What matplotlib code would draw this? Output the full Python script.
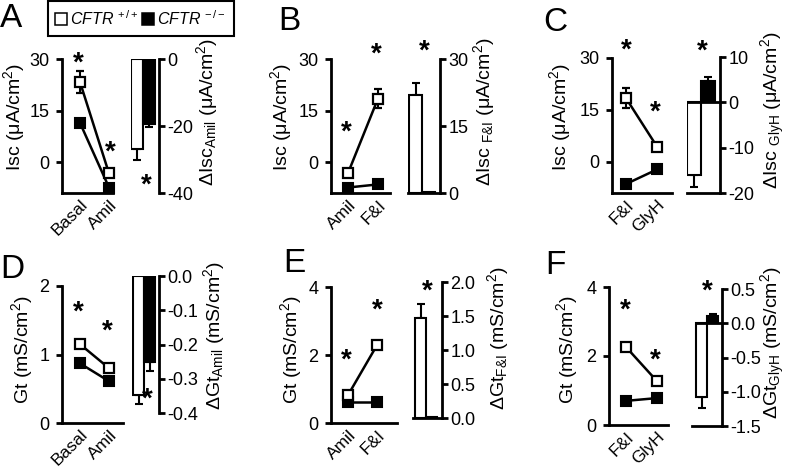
import matplotlib
matplotlib.use('Agg')
import matplotlib.pyplot as plt
from matplotlib import transforms
from matplotlib.lines import Line2D

plt.rcParams['font.family'] = ['Liberation Sans', 'DejaVu Sans']
plt.rcParams['mathtext.fontset'] = 'custom'
plt.rcParams['mathtext.rm'] = 'Liberation Sans'
plt.rcParams['mathtext.it'] = 'Liberation Sans:italic'
plt.rcParams['mathtext.bf'] = 'Liberation Sans:bold'
plt.rcParams['mathtext.default'] = 'regular'
plt.rcParams['axes.unicode_minus'] = False

# ===== DATA =====
# Isc (uA/cm2), CFTR+/+ = wt, CFTR-/- = ko
a_conds = ['Basal', 'Amil']
a_wt = [23.3, -3.3]
a_wt_err = [3.2, 0.5]
a_ko = [11.4, -7.4]
a_ko_err = [0.5, 0.5]
a_delta = [-27.0, -19.5]
a_delta_err = [3.2, 0.8]

b_conds = ['Amil', 'F&I']
b_wt = [-3.2, 18.5]
b_wt_err = [0.5, 2.8]
b_ko = [-7.4, -6.5]
b_ko_err = [0.5, 0.5]
b_delta = [22.0, 0.3]
b_delta_err = [2.7, 0.0]

c_conds = ['F&I', 'GlyH']
c_wt = [18.4, 4.4]
c_wt_err = [2.8, 0.5]
c_ko = [-6.4, -2.2]
c_ko_err = [0.5, 0.5]
c_delta = [-16.0, 4.6]
c_delta_err = [2.7, 1.0]

# Gt (mS/cm2)
d_conds = ['Basal', 'Amil']
d_wt = [1.15, 0.80]
d_wt_err = [0.03, 0.03]
d_ko = [0.87, 0.61]
d_ko_err = [0.03, 0.03]
d_delta = [-0.347, -0.251]
d_delta_err = [0.026, 0.026]

e_conds = ['Amil', 'F&I']
e_wt = [0.82, 2.29]
e_wt_err = [0.05, 0.08]
e_ko = [0.62, 0.62]
e_ko_err = [0.03, 0.03]
e_delta = [1.47, 0.02]
e_delta_err = [0.21, 0.0]

f_conds = ['F&I', 'GlyH']
f_wt = [2.26, 1.27]
f_wt_err = [0.08, 0.05]
f_ko = [0.70, 0.78]
f_ko_err = [0.03, 0.03]
f_delta = [-1.07, 0.11]
f_delta_err = [0.17, 0.03]

# significance stars (x, y in data units of each axes)
a_stars = [(-0.07, 31.2), (1.03, 5.5)]
a_bar_stars = [(0.75, -35.0)]
b_stars = [(-0.07, 11.2), (0.93, 34.0)]
b_bar_stars = [(0.65, 33.6)]
c_stars = [(0.0, 34.7), (0.94, 16.9)]
c_bar_stars = [(0.57, 13.1)]
d_stars = [(-0.07, 1.75), (0.93, 1.46)]
d_bar_stars = [(0.77, -0.335)]
e_stars = [(-0.07, 2.09), (1.0, 3.56)]
e_bar_stars = [(0.59, 1.99)]
f_stars = [(-0.03, 3.57), (0.94, 2.12)]
f_bar_stars = [(0.5, 0.59)]

W, H = 792, 469
fig = plt.figure(figsize=(W / 100, H / 100), dpi=100)

LW = 2.0
TICKFS = 13
XTICKFS = 12.5
LABFS = 14


def px_axes(l, r, t, b):
    return fig.add_axes([l / W, 1 - b / H, (r - l) / W, (b - t) / H])


def add_stars(ax, stars, fs=20):
    tr = transforms.offset_copy(ax.transData, fig=fig, x=0, y=-0.58 * fs, units='points')
    for x, y in stars:
        ax.text(x, y, '*', transform=tr, ha='center', va='baseline',
                fontsize=fs, fontweight='bold', clip_on=False)


def line_panel(box, ylim, yticks, conds, wt, wt_err, ko, ko_err, stars,
               ylabel, lab_xy):
    al, p0, p1, ar, t, b = box
    ax = px_axes(al, ar, t, b)
    unit = p1 - p0
    ax.set_xlim(-(p0 - al) / unit, 1 + (ar - p1) / unit)
    ax.set_ylim(*ylim)
    x = [0, 1]
    ax.errorbar(x, ko, yerr=ko_err, color='black', lw=1.8, marker='s', ms=7.5,
                mfc='black', mec='black', mew=1.5, capsize=3, elinewidth=1.5,
                capthick=1.5, clip_on=False, zorder=3)
    ax.errorbar(x, wt, yerr=wt_err, color='black', lw=1.8, marker='s', ms=7.5,
                mfc='white', mec='black', mew=1.6, capsize=3, elinewidth=1.5,
                capthick=1.5, clip_on=False, zorder=4)
    for s in ['top', 'right']:
        ax.spines[s].set_visible(False)
    for s in ['left', 'bottom']:
        ax.spines[s].set_linewidth(LW)
    ax.set_yticks(yticks)
    ax.set_xticks(x)
    ax.set_xticklabels(conds)
    ax.tick_params(axis='y', direction='out', length=4, width=LW, pad=5,
                   labelsize=TICKFS)
    ax.tick_params(axis='x', length=0, pad=3, labelsize=XTICKFS)
    plt.setp(ax.get_xticklabels(), rotation=45, ha='right', rotation_mode='anchor')
    ax.set_ylabel(ylabel, fontsize=LABFS)
    ax.yaxis.set_label_coords(lab_xy[0] / W, 1 - lab_xy[1] / H, transform=fig.transFigure)
    ax.yaxis.label.set_va('center')
    add_stars(ax, stars)
    return ax


def bar_panel(box, ylim, yticks, fmt, delta, delta_err, stars, ylabel, lab_xy,
              bottom_spine, zero_line):
    al, bl, br, ar, t, b = box
    ax = px_axes(al, ar, t, b)
    unit = (br - bl) / 2
    x0, x1 = -0.5 - (bl - al) / unit, 1.5 + (ar - br) / unit
    ax.set_xlim(x0, x1)
    ax.set_ylim(*ylim)
    colors = ['white', 'black']
    for i in range(2):
        v = delta[i]
        e = delta_err[i]
        yerr = [[e], [0]] if v < 0 else [[0], [e]]
        ax.bar(i, v, width=1.0, color=colors[i], edgecolor='black', linewidth=1.5,
               zorder=2)
        if e > 0:
            ax.errorbar(i, v, yerr=yerr, color='black', capsize=3, elinewidth=1.5,
                        capthick=1.5, zorder=1)
    if zero_line:
        ax.axhline(0, xmin=(-0.5 - x0) / (x1 - x0), color='black', lw=LW, zorder=3)
    for s in ['top', 'left']:
        ax.spines[s].set_visible(False)
    ax.spines['bottom'].set_visible(bottom_spine)
    ax.spines['right'].set_linewidth(LW)
    ax.spines['bottom'].set_linewidth(LW)
    ax.yaxis.tick_right()
    ax.yaxis.set_label_position('right')
    ax.set_yticks(yticks)
    ax.set_yticklabels([fmt % v for v in yticks])
    ax.set_xticks([])
    ax.tick_params(axis='y', direction='out', length=4, width=LW, pad=2,
                   labelsize=TICKFS)
    ax.set_ylabel(ylabel, fontsize=LABFS)
    ax.yaxis.set_label_coords(lab_xy[0] / W, 1 - lab_xy[1] / H, transform=fig.transFigure)
    ax.yaxis.label.set_va('center')
    ax.yaxis.label.set_ha('center')
    add_stars(ax, stars)
    return ax


isc_lab = 'Isc (μA/cm$^2$)'
gt_lab = 'Gt (mS/cm$^2$)'

# top row: Isc
line_panel((62, 80, 109, 113, 59, 193), (-9, 30), [0, 15, 30], a_conds,
           a_wt, a_wt_err, a_ko, a_ko_err, a_stars, isc_lab, (14, 117))
bar_panel((131, 131, 155, 159, 59, 193), (-40, 0), [0, -20, -40], '%g', a_delta,
          a_delta_err, a_bar_stars, 'ΔIsc$_{Amil}$ (μA/cm$^2$)',
          (207, 112), False, False)

line_panel((331, 348, 378, 390, 59, 193), (-9, 30), [0, 15, 30], b_conds,
           b_wt, b_wt_err, b_ko, b_ko_err, b_stars, isc_lab, (281, 117))
bar_panel((408, 409, 435, 440, 59, 193), (0, 30), [0, 15, 30], '%g', b_delta,
          b_delta_err, b_bar_stars, 'ΔIsc $_{F&I}$ (μA/cm$^2$)',
          (484, 112), True, False)

line_panel((612, 626, 657, 672, 58, 193), (-9, 30), [0, 15, 30], c_conds,
           c_wt, c_wt_err, c_ko, c_ko_err, c_stars, isc_lab, (560, 117))
bar_panel((687, 687, 715, 720, 57, 193), (-20, 10), [10, 0, -10, -20], '%g', c_delta,
          c_delta_err, c_bar_stars, 'ΔIsc $_{GlyH}$ (μA/cm$^2$)',
          (773, 110), True, True)

# bottom row: Gt
line_panel((62, 80, 109, 123, 286, 423), (0, 2), [0, 1, 2], d_conds,
           d_wt, d_wt_err, d_ko, d_ko_err, d_stars, gt_lab, (22, 350))
bar_panel((132, 133, 155, 159, 276, 413), (-0.4, 0), [0, -0.1, -0.2, -0.3, -0.4], '%.1f',
          d_delta, d_delta_err, d_bar_stars, 'ΔGt$_{Amil}$ (mS/cm$^2$)',
          (214, 336), False, False)

line_panel((331, 348, 377, 397, 287, 423), (0, 4), [0, 2, 4], e_conds,
           e_wt, e_wt_err, e_ko, e_ko_err, e_stars, gt_lab, (291, 350))
bar_panel((413, 415, 437, 442, 282, 418), (0, 2), [0, 0.5, 1.0, 1.5, 2.0], '%.1f',
          e_delta, e_delta_err, e_bar_stars, 'ΔGt$_{F&I}$ (mS/cm$^2$)',
          (498, 338), True, False)

line_panel((609, 626, 657, 668, 287, 425), (0, 4), [0, 2, 4], f_conds,
           f_wt, f_wt_err, f_ko, f_ko_err, f_stars, gt_lab, (567, 350))
bar_panel((692, 696, 718, 722, 289, 426), (-1.5, 0.5), [0.5, 0, -0.5, -1.0, -1.5], '%.1f',
          f_delta, f_delta_err, f_bar_stars, 'ΔGt$_{GlyH}$ (mS/cm$^2$)',
          (773, 343), True, True)

# panel letters (baseline positions)
for letter, x, y in [('A', 0, 27), ('B', 278, 30), ('C', 543, 31),
                     ('D', 0, 278), ('E', 283, 272), ('F', 545, 274)]:
    fig.text(x / W, 1 - y / H, letter, fontsize=24, ha='left', va='baseline')

# legend
handles = [Line2D([], [], ls='none', marker='s', ms=8, mfc='white', mec='black', mew=1.1),
           Line2D([], [], ls='none', marker='s', ms=8, mfc='black', mec='black', mew=1.1)]
labels = [r'$\mathit{CFTR}^{\,+/+}$', r'$\mathit{CFTR}^{\,-/-}$']
leg = fig.legend(handles, labels, ncol=2, loc='upper left',
                 bbox_to_anchor=(48 / W, 1 - 1 / H), fontsize=11.5, frameon=True,
                 fancybox=False, edgecolor='black', framealpha=1,
                 handlelength=0.6, handletextpad=0.25, columnspacing=0.35,
                 borderpad=0.5, borderaxespad=0)
leg.get_frame().set_linewidth(1.5)

fig.savefig('out.png', dpi=100)
